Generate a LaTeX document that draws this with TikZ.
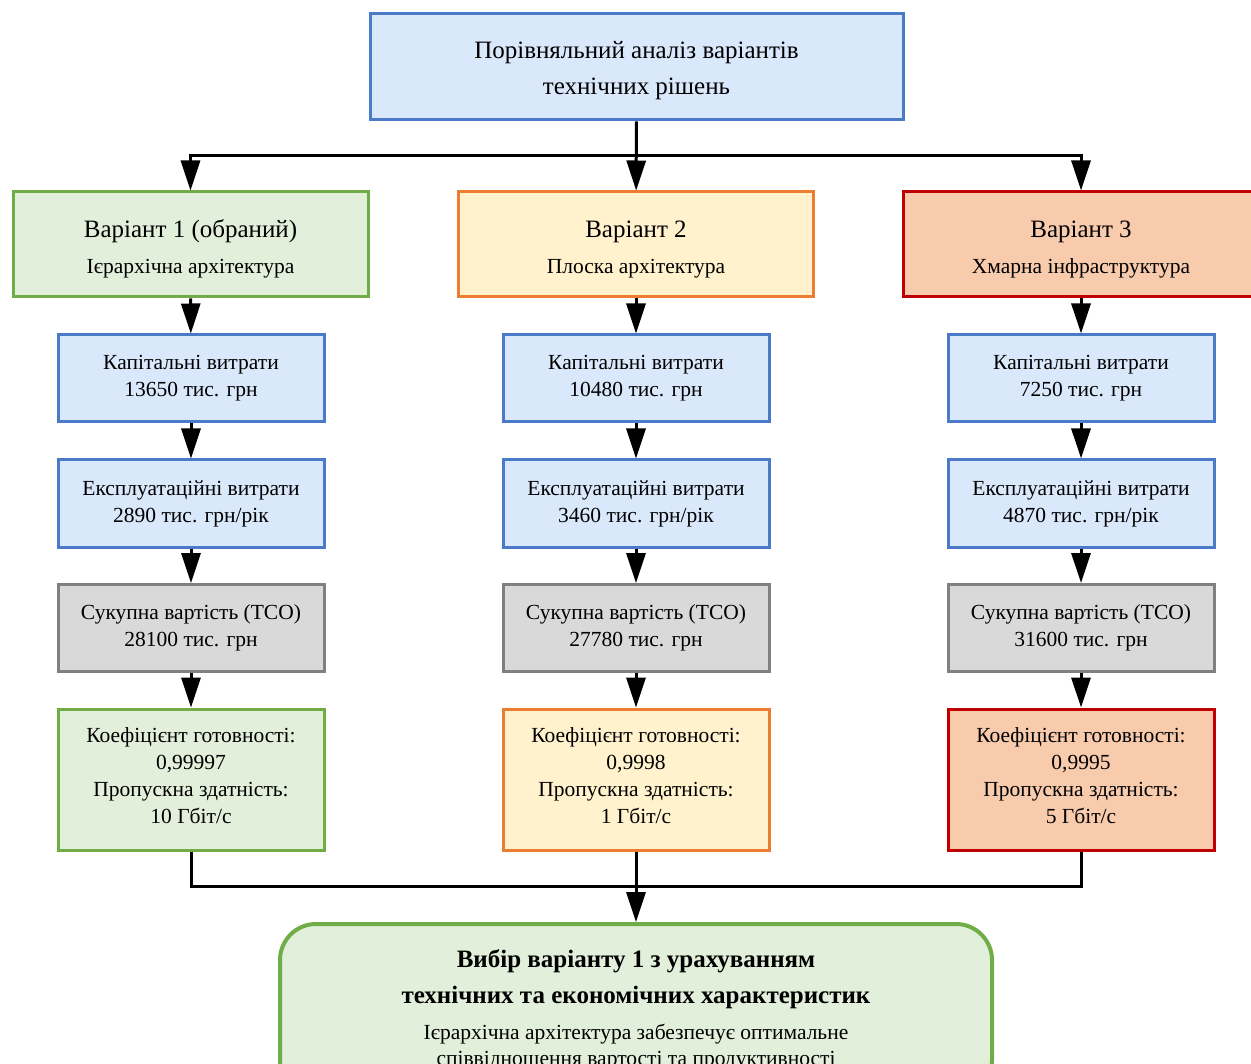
\documentclass[tikz,border=0pt]{standalone}
\usepackage{fontspec}
\setmainfont{Liberation Serif}
\usetikzlibrary{arrows.meta}

\definecolor{bluefill}{HTML}{DAE8FC}
\definecolor{blueline}{HTML}{4A7AC8}
\definecolor{greenfill}{HTML}{E2EFDA}
\definecolor{greenline}{HTML}{70AD47}
\definecolor{orangefill}{HTML}{FFF2CC}
\definecolor{orangeline}{HTML}{ED7D31}
\definecolor{redfill}{HTML}{F8CBAD}
\definecolor{redline}{HTML}{C00000}
\definecolor{grayfill}{HTML}{D9D9D9}
\definecolor{grayline}{HTML}{808080}

\newcommand{\bigsize}{\fontsize{25}{36}\selectfont}
\newcommand{\smallsize}{\fontsize{21.5}{27}\selectfont}
% struts that push a text block down (tall first line) or up (deep last line)
\newcommand{\tallstrut}[1]{\rule{0pt}{#1}}
\newcommand{\deepstrut}{\rule[-7pt]{0pt}{7pt}}

\tikzset{
  box/.style={draw, line width=3pt, align=center, inner sep=0pt},
  headbox/.style={box, font=\bigsize, minimum width=533pt, minimum height=106pt},
  variant/.style={box, font=\fontsize{21.5}{36}\selectfont,
                  minimum width=355pt, minimum height=105pt},
  costbox/.style={box, font=\smallsize, minimum width=266pt, minimum height=87pt},
  coefbox/.style={box, font=\smallsize, minimum width=266pt, minimum height=141pt},
  bluebox/.style={fill=bluefill, draw=blueline},
  greenbox/.style={fill=greenfill, draw=greenline},
  orangebox/.style={fill=orangefill, draw=orangeline},
  redbox/.style={fill=redfill, draw=redline},
  graybox/.style={fill=grayfill, draw=grayline},
  link/.style={line width=3pt, black},
  arr/.style={link, -{Triangle[length=30pt, width=19pt]}},
}

\newcommand{\vartitle}[2]{{\fontsize{25}{36}\selectfont\tallstrut{27pt}#1}\\#2}
\newcommand{\coeftext}[2]{Коефіцієнт готовності:\\#1\\Пропускна здатність:\\#2\deepstrut}

\begin{document}
\begin{tikzpicture}[x=1pt, y=-1pt]
  \useasboundingbox (0,0) rectangle (1251,1064);
  \clip (0,0) rectangle (1251,1064);

  % heading
  \node[headbox, bluebox] (top) at (636.5,67)
    {\tallstrut{25pt}Порівняльний аналіз варіантів\\технічних рішень};

  % three variants
  \node[variant, greenbox] (v1) at (190.5,244.5)
    {\vartitle{Варіант 1 (обраний)}{Ієрархічна архітектура}};
  \node[variant, orangebox] (v2) at (636,244.5)
    {\vartitle{Варіант 2}{Плоска архітектура}};
  \node[variant, redbox] (v3) at (1081,244.5)
    {\vartitle{Варіант 3}{Хмарна інфраструктура}};

  % capital costs
  \node[costbox, bluebox] (k1) at (191,378.5) {Капітальні витрати\\13650 тис. грн};
  \node[costbox, bluebox] (k2) at (636,378.5) {Капітальні витрати\\10480 тис. грн};
  \node[costbox, bluebox] (k3) at (1081,378.5) {Капітальні витрати\\7250 тис. грн};

  % operating costs
  \node[costbox, bluebox] (e1) at (191,503.5) {Експлуатаційні витрати\\2890 тис. грн/рік};
  \node[costbox, bluebox] (e2) at (636,503.5) {Експлуатаційні витрати\\3460 тис. грн/рік};
  \node[costbox, bluebox] (e3) at (1081,503.5) {Експлуатаційні витрати\\4870 тис. грн/рік};

  % total cost of ownership
  \node[costbox, graybox] (t1) at (191,628) {Сукупна вартість (TCO)\\28100 тис. грн};
  \node[costbox, graybox] (t2) at (636,628) {Сукупна вартість (TCO)\\27780 тис. грн};
  \node[costbox, graybox] (t3) at (1081,628) {Сукупна вартість (TCO)\\31600 тис. грн};

  % availability and throughput
  \node[coefbox, greenbox] (c1) at (191,779.5) {\coeftext{0,99997}{10 Гбіт/с}};
  \node[coefbox, orangebox] (c2) at (636,779.5) {\coeftext{0,9998}{1 Гбіт/с}};
  \node[coefbox, redbox] (c3) at (1081,779.5) {\coeftext{0,9995}{5 Гбіт/с}};

  % conclusion
  \node[draw=greenline, fill=greenfill, line width=4pt, rounded corners=36pt,
        minimum width=712pt, minimum height=172pt, align=center, inner sep=0pt,
        font=\fontsize{21.5}{36}\selectfont]
    (fin) at (636,1010)
    {{\bigsize\bfseries Вибір варіанту 1 з урахуванням}\\
     {\bigsize\bfseries технічних та економічних характеристик}\\
     Ієрархічна архітектура забезпечує оптимальне\\[-10pt]
     співвідношення вартості та продуктивності};

  % branching from the heading
  \coordinate (bus) at (636,156);
  \draw[arr] (top) -- (v2);
  \draw[arr] (bus) -| (v1);
  \draw[arr] (bus) -| (v3);

  % columns
  \foreach \i in {1,2,3} {
    \draw[arr] (v\i) -- (k\i);
    \draw[arr] (k\i) -- (e\i);
    \draw[arr] (e\i) -- (t\i);
    \draw[arr] (t\i) -- (c\i);
  }

  % joining into the conclusion
  \coordinate (join) at (636,886);
  \draw[link] (c1) |- (join);
  \draw[link] (c3) |- (join);
  \draw[arr] (c2) -- (fin);
\end{tikzpicture}
\end{document}
